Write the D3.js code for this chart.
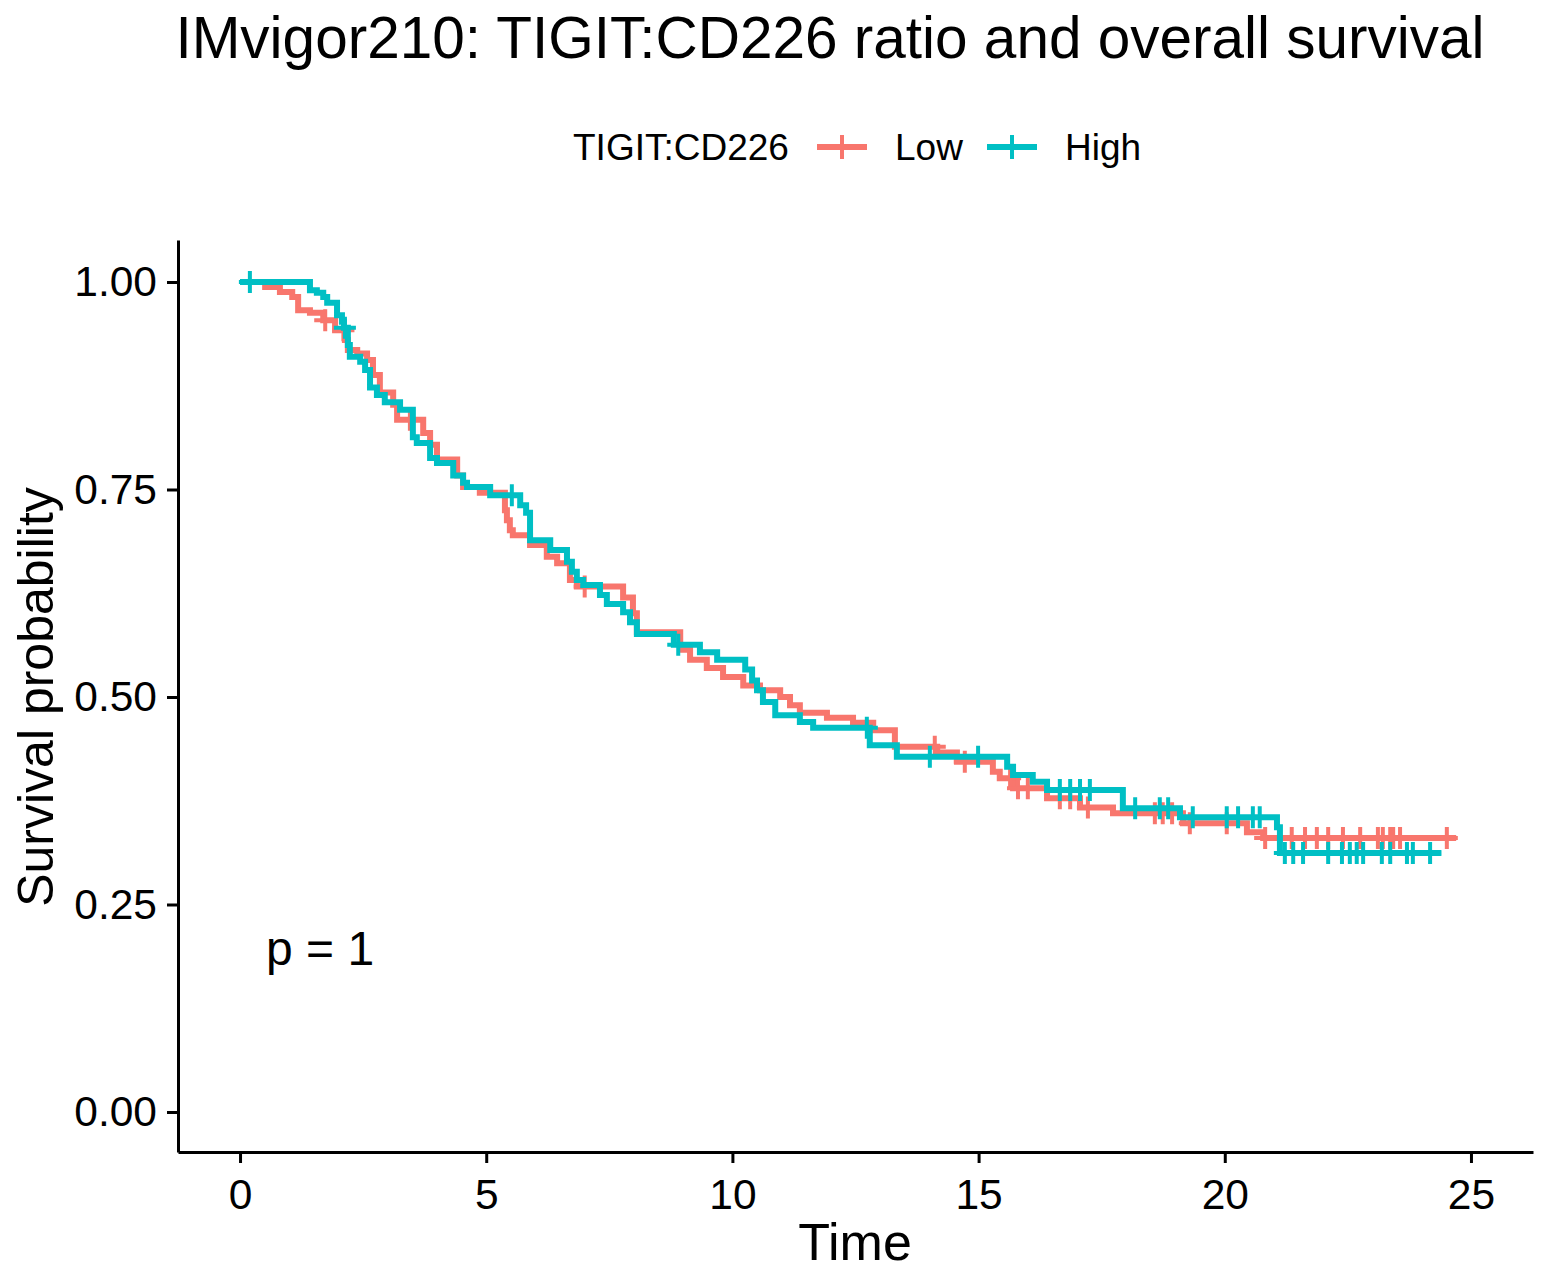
<!DOCTYPE html>
<html>
<head>
<meta charset="utf-8">
<script src="https://cdn.jsdelivr.net/npm/d3@7"></script>
<style>
  body { margin: 0; background: #fff; }
  text { font-family: "Liberation Sans", Arial, sans-serif; fill: #000; }
</style>
</head>
<body>
<div id="km"></div>
<script>
// groups
const groups = ["Low", "High"];
const groupColors = ["#F8766D", "#00BFC4"];

// step curves: time of each drop and survival after it
const lowTime = [0, 0.51, 0.81, 1.06, 1.18, 1.42, 1.69, 1.93, 2.13, 2.19, 2.38, 2.58, 2.70, 2.84, 3.11,
  3.19, 3.72, 3.86, 4.00, 4.41, 4.53, 4.87, 5.38, 5.42, 5.48, 5.54, 5.89, 6.23, 6.44, 6.70,
  6.84, 7.78, 7.98, 8.06, 8.94, 9.14, 9.48, 9.81, 10.22, 10.56, 10.97, 11.17, 11.37, 11.92, 12.45,
  12.86, 13.30, 14.16, 14.56, 15.29, 15.43, 15.70, 16.39, 17.06, 17.73, 19.15, 20.45, 20.78, 24.7];
const lowSurv = [1, 0.994, 0.988, 0.982, 0.966, 0.963, 0.954, 0.942, 0.930, 0.918, 0.914, 0.906, 0.888, 0.867, 0.852,
  0.834, 0.818, 0.804, 0.786, 0.767, 0.753, 0.746, 0.725, 0.713, 0.701, 0.695, 0.683, 0.669, 0.661, 0.641,
  0.633, 0.620, 0.601, 0.578, 0.557, 0.545, 0.535, 0.524, 0.514, 0.508, 0.500, 0.490, 0.481, 0.475, 0.469,
  0.460, 0.440, 0.433, 0.422, 0.410, 0.402, 0.390, 0.378, 0.367, 0.360, 0.348, 0.337, 0.330, 0.330];
const lowCensor = [1.73, 2.10, 3.45, 7.00, 14.11, 14.72, 15.64, 15.80, 16.00, 16.65, 16.86, 17.22,
  18.58, 18.74, 18.93, 19.29, 20.04, 20.82, 21.36, 21.63, 21.87, 22.10, 22.40, 22.75, 23.11, 23.21,
  23.36, 23.42, 23.56, 24.51];

const highTime = [0, 1.42, 1.56, 1.69, 1.77, 1.97, 2.07, 2.11, 2.19, 2.23, 2.44, 2.54, 2.64, 2.78, 2.94,
  3.25, 3.51, 3.59, 3.86, 4.00, 4.33, 4.53, 4.61, 5.08, 5.69, 5.81, 5.89, 6.30, 6.64, 6.74,
  6.84, 6.97, 7.31, 7.45, 7.78, 7.92, 8.06, 8.81, 9.34, 9.69, 10.26, 10.40, 10.50, 10.62, 10.87,
  11.37, 11.64, 12.79, 13.34, 15.58, 15.70, 16.10, 16.39, 17.93, 19.09, 21.06, 21.12, 24.4];
const highSurv = [1, 0.990, 0.987, 0.982, 0.975, 0.960, 0.952, 0.945, 0.924, 0.910, 0.904, 0.894, 0.873, 0.864, 0.855,
  0.846, 0.813, 0.806, 0.788, 0.782, 0.767, 0.758, 0.753, 0.743, 0.731, 0.722, 0.689, 0.677, 0.663, 0.651,
  0.641, 0.635, 0.623, 0.612, 0.602, 0.590, 0.576, 0.563, 0.554, 0.545, 0.533, 0.520, 0.508, 0.494, 0.478,
  0.470, 0.463, 0.442, 0.428, 0.416, 0.406, 0.398, 0.388, 0.366, 0.355, 0.343, 0.312, 0.312];
const highCensor = [0.2, 2.13, 5.52, 8.9, 12.73, 14.01, 14.99, 16.65, 16.86, 17.06, 17.26, 18.18,
  18.68, 18.85, 19.35, 20.04, 20.27, 20.57, 20.71, 21.22, 21.39, 21.59, 22.10, 22.38, 22.54, 22.68,
  22.81, 23.19, 23.36, 23.70, 23.82, 24.17];

const xTicks = [0, 5, 10, 15, 20, 25];
const yTicks = [0, 0.25, 0.5, 0.75, 1];

const W = 1550, H = 1278;
const panel = {left: 178, right: 1533, top: 240, bottom: 1152};

const svg = d3.select("#km")
  .append("svg")
    .attr("width", W)
    .attr("height", H);

// scales (ggplot style 5% expansion)
const x = d3.scaleLinear()
  .domain([-1.26, 26.26])
  .range([panel.left, panel.right]);
const y = d3.scaleLinear()
  .domain([-0.0482, 1.0506])
  .range([panel.bottom, panel.top]);

// title
svg.append("text")
  .attr("x", 830).attr("y", 58)
  .attr("text-anchor", "middle")
  .style("font-size", "58.5px")
  .text("IMvigor210: TIGIT:CD226 ratio and overall survival");

// axes
const xAxis = svg.append("g")
  .attr("transform", `translate(0,${panel.bottom})`)
  .call(d3.axisBottom(x).tickValues(xTicks).tickSize(11).tickSizeOuter(0).tickPadding(10));
const yAxis = svg.append("g")
  .attr("transform", `translate(${panel.left},0)`)
  .call(d3.axisLeft(y).tickValues(yTicks).tickFormat(d3.format(".2f")).tickSize(11).tickSizeOuter(0).tickPadding(10));

[xAxis, yAxis].forEach(function(g) {
  g.select(".domain").attr("stroke", "#000").attr("stroke-width", 3);
  g.selectAll(".tick line").attr("stroke", "#000").attr("stroke-width", 3);
  g.selectAll(".tick text")
    .style("font-size", "42.5px")
    .style("font-family", '"Liberation Sans", Arial, sans-serif')
    .attr("fill", "#000");
});
xAxis.selectAll(".tick text").attr("dy", "0.85em");

// axis titles
svg.append("text")
  .attr("x", 855).attr("y", 1260)
  .attr("text-anchor", "middle")
  .style("font-size", "52px")
  .text("Time");
svg.append("text")
  .attr("transform", "translate(53,697) rotate(-90)")
  .attr("text-anchor", "middle")
  .style("font-size", "50px")
  .text("Survival probability");

// curves
const series = [
  {name: "Low", time: lowTime, surv: lowSurv, censor: lowCensor, color: groupColors[0]},
  {name: "High", time: highTime, surv: highSurv, censor: highCensor, color: groupColors[1]}
];

const stepLine = d3.line()
  .x(function(d) { return x(d[0]); })
  .y(function(d) { return y(d[1]); })
  .curve(d3.curveStepAfter);

function survAt(s, t) {
  let i = d3.bisectRight(s.time, t) - 1;
  if (i < 0) i = 0;
  return s.surv[i];
}

const plus = 11;

series.forEach(function(s) {
  const pts = s.time.map(function(t, i) { return [t, s.surv[i]]; });
  svg.append("path")
    .datum(pts)
    .attr("fill", "none")
    .attr("stroke", s.color)
    .attr("stroke-width", 6)
    .attr("d", stepLine);

  const g = svg.append("g")
    .attr("stroke", s.color)
    .attr("stroke-width", 4);
  g.selectAll("path")
    .data(s.censor)
    .enter()
    .append("path")
      .attr("d", function(t) {
        const cx = x(t), cy = y(survAt(s, t));
        return `M${cx - plus},${cy}H${cx + plus}M${cx},${cy - plus}V${cy + plus}`;
      });
});

// p value
svg.append("text")
  .attr("x", 266).attr("y", 965)
  .style("font-size", "48px")
  .text("p = 1");

// legend
const legY = 147;
svg.append("text")
  .attr("x", 573).attr("y", legY + 13)
  .style("font-size", "37px")
  .text("TIGIT:CD226");

const legX = [817, 987];
groups.forEach(function(name, i) {
  const lx = legX[i];
  svg.append("line")
    .attr("x1", lx).attr("x2", lx + 50)
    .attr("y1", legY).attr("y2", legY)
    .attr("stroke", groupColors[i]).attr("stroke-width", 6);
  svg.append("line")
    .attr("x1", lx + 25).attr("x2", lx + 25)
    .attr("y1", legY - 12).attr("y2", legY + 12)
    .attr("stroke", groupColors[i]).attr("stroke-width", 4);
  svg.append("text")
    .attr("x", lx + 78).attr("y", legY + 13)
    .style("font-size", "37px")
    .text(name);
});
</script>
</body>
</html>
